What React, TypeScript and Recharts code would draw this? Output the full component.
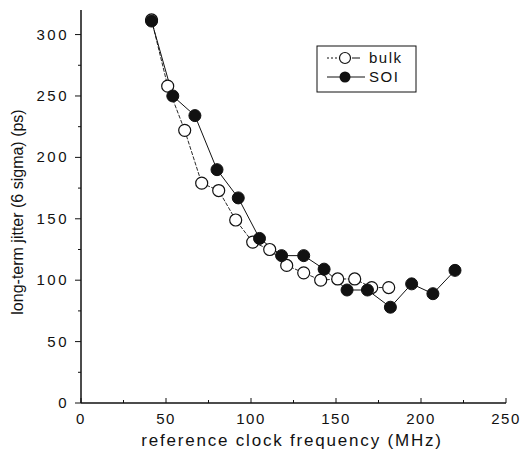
import React from "react";
import { ComposedChart, Line, XAxis, YAxis } from "recharts";

// bulk CMOS, open circles
const bulkFreq = [41.5, 51, 61, 71, 81, 91, 101, 111, 121, 131, 141, 151, 161, 171, 181];
const bulkJitter = [312, 258, 222, 179, 173, 149, 131, 125, 112, 106, 100, 101, 101, 94, 94];

// SOI, filled circles
const soiFreq = [41.5, 54, 67, 80, 92.5, 105, 118, 131, 143, 156.5, 168.5, 182, 194.5, 207, 220];
const soiJitter = [311, 250, 234, 190, 167, 134, 120, 120, 109, 92, 92, 78, 97, 89, 108];

const xTicks = [0, 25, 50, 75, 100, 125, 150, 175, 200, 225, 250];
const yTicks = [0, 25, 50, 75, 100, 125, 150, 175, 200, 225, 250, 275, 300];

const FONT = "'Liberation Sans', Arial, sans-serif";
const INK = "#111";

const bulkData = bulkFreq.map((x, i) => ({ x, y: bulkJitter[i] }));
const soiData = soiFreq.map((x, i) => ({ x, y: soiJitter[i] }));

function XTick({ x, y, payload }: any) {
  const major = payload.value % 50 === 0;
  return (
    <g>
      <line x1={x} y1={y} x2={x} y2={y - (major ? 5 : 3)} stroke={INK} strokeWidth={1} />
      {major && (
        <text x={x} y={y + 21} textAnchor="middle" fontSize={15} fontFamily={FONT} fill={INK} letterSpacing={1.5}>
          {payload.value}
        </text>
      )}
    </g>
  );
}

function YTick({ x, y, payload }: any) {
  const major = payload.value % 50 === 0;
  return (
    <g>
      <line x1={x} y1={y} x2={x - (major ? 6 : 3)} y2={y} stroke={INK} strokeWidth={1} />
      {major && (
        <text x={x - 12} y={y + 5} textAnchor="end" fontSize={15} fontFamily={FONT} fill={INK} letterSpacing={2.5}>
          {payload.value}
        </text>
      )}
    </g>
  );
}

export default function App() {
  return (
    <div style={{ position: "absolute", left: 0, top: 0, width: 522, height: 467, background: "#fff" }}>
      <ComposedChart width={522} height={467} margin={{ top: 10, right: 16, left: 0, bottom: 0 }}>
        <XAxis
          type="number"
          dataKey="x"
          domain={[0, 250]}
          ticks={xTicks}
          height={64}
          tickSize={0}
          tickMargin={0}
          tickLine={false}
          tick={<XTick />}
          axisLine={{ stroke: INK, strokeWidth: 1.5 }}
          allowDataOverflow
        />
        <YAxis
          type="number"
          domain={[0, 320]}
          ticks={yTicks}
          width={81}
          tickSize={0}
          tickMargin={0}
          tickLine={false}
          tick={<YTick />}
          axisLine={{ stroke: INK, strokeWidth: 1.5 }}
          allowDataOverflow
        />
        <Line
          data={bulkData}
          dataKey="y"
          stroke={INK}
          strokeWidth={0.9}
          strokeDasharray="4 1.5"
          dot={{ r: 6, fill: "#fff", stroke: INK, strokeWidth: 1.2, strokeDasharray: "none" }}
          isAnimationActive={false}
        />
        <Line
          data={soiData}
          dataKey="y"
          stroke={INK}
          strokeWidth={1}
          dot={{ r: 6, fill: INK, stroke: INK, strokeWidth: 1 }}
          isAnimationActive={false}
        />
      </ComposedChart>
      <svg width={522} height={467} style={{ position: "absolute", left: 0, top: 0, pointerEvents: "none" }}>
        <text
          x={292}
          y={446}
          textAnchor="middle"
          fontSize={17}
          fontFamily={FONT}
          fill={INK}
          letterSpacing={1.8}
        >
          reference clock frequency (MHz)
        </text>
        <text
          x={0}
          y={0}
          transform="translate(23 212) rotate(-90)"
          textAnchor="middle"
          fontSize={16}
          fontFamily={FONT}
          fill={INK}
        >
          long-term jitter (6 sigma) (ps)
        </text>
        <g>
          <rect x={317} y={46} width={99} height={46} fill="#fff" stroke={INK} strokeWidth={1} />
          <line x1={327} y1={58} x2={338} y2={58} stroke={INK} strokeWidth={1} strokeDasharray="2 2" />
          <line x1={352} y1={58} x2={360} y2={58} stroke={INK} strokeWidth={1} />
          <circle cx={345} cy={58} r={5.5} fill="#fff" stroke={INK} strokeWidth={1.2} />
          <text x={369} y={63} fontSize={15} fontFamily={FONT} fill={INK} letterSpacing={1.5}>
            bulk
          </text>
          <line x1={327} y1={77} x2={365} y2={77} stroke={INK} strokeWidth={1} />
          <circle cx={345} cy={77} r={5.5} fill={INK} />
          <text x={369} y={82} fontSize={15} fontFamily={FONT} fill={INK} letterSpacing={1.5}>
            SOI
          </text>
        </g>
      </svg>
    </div>
  );
}
